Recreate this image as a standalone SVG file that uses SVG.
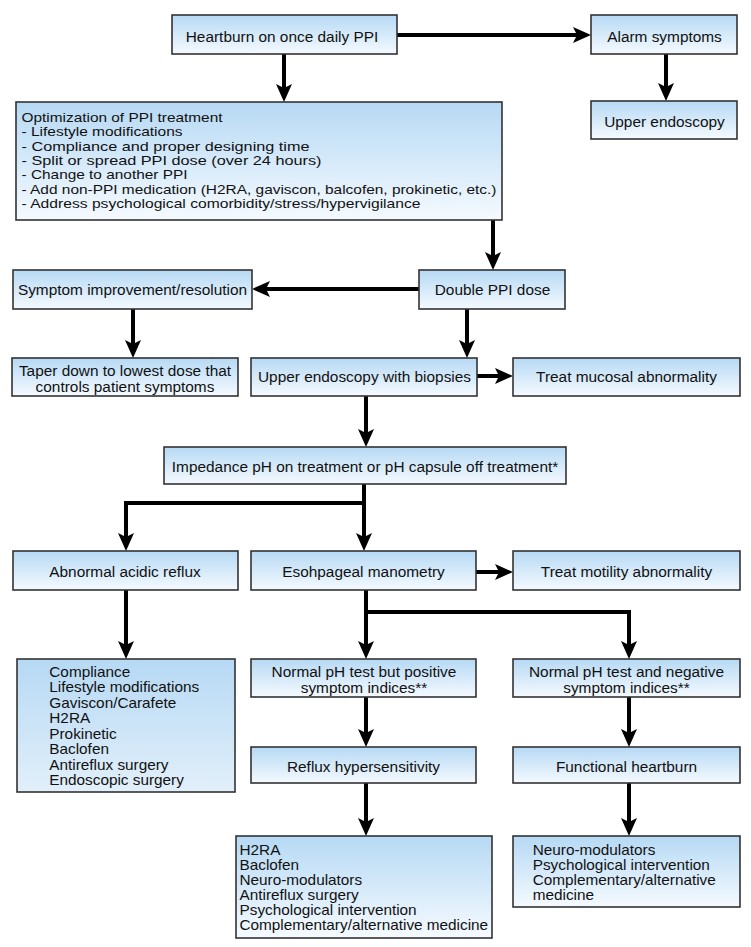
<svg xmlns="http://www.w3.org/2000/svg" width="751" height="947" viewBox="0 0 751 947">
<defs>
<linearGradient id="g" x1="0" y1="0" x2="0" y2="1">
<stop offset="0" stop-color="#b6d9f4"/>
<stop offset="1" stop-color="#f5faff"/>
</linearGradient>
<linearGradient id="g2" x1="0" y1="0" x2="0" y2="1">
<stop offset="0" stop-color="#b6d9f4"/>
<stop offset="1" stop-color="#e2effa"/>
</linearGradient>
<marker id="ah" markerUnits="userSpaceOnUse" markerWidth="20" markerHeight="18" refX="6" refY="8" orient="auto">
<path d="M0,0 L18,8 L0,16 L4,8 Z" fill="#000"/>
</marker>
<style>
rect.b{fill:url(#g);stroke:#333;stroke-width:1.6}
rect.b2{fill:url(#g2);stroke:#333;stroke-width:1.6}
text{font-family:"Liberation Sans",Arial,sans-serif;font-size:15.4px;fill:#111}
text.c{text-anchor:middle}
text.o{font-size:13.6px}
.l text{font-size:14.4px}
.con path{fill:none;stroke:#000;stroke-width:4;stroke-linejoin:miter}
.con path.a{marker-end:url(#ah)}
</style>
</defs>
<rect width="751" height="947" fill="#fff"/>

<g class="con" id="connectors">
<path class="a" d="M397,35 H579"/>
<path class="a" d="M284,54 V90"/>
<path class="a" d="M666,54 V89"/>
<path class="a" d="M493,220 V258"/>
<path class="a" d="M419,289 H264"/>
<path class="a" d="M133,309 V346"/>
<path class="a" d="M467,309 V346"/>
<path class="a" d="M477,376 H501"/>
<path class="a" d="M366,396 V435"/>
<path class="a" d="M364,484 V539"/>
<path class="a" d="M364,503 H126 V539"/>
<path class="a" d="M476,572 H501"/>
<path class="a" d="M126,590 V647"/>
<path class="a" d="M366,590 V647"/>
<path class="a" d="M366,612 H629 V647"/>
<path class="a" d="M366,697 V735"/>
<path class="a" d="M629,697 V735"/>
<path class="a" d="M366,783 V824"/>
<path class="a" d="M629,783 V824"/>
</g>

<g id="n-heartburn"><rect class="b" x="172" y="15" width="225" height="39"/><text class="c" x="282" y="41.5">Heartburn on once daily PPI</text></g>
<g id="n-alarm"><rect class="b" x="591" y="15" width="146" height="39"/><text class="c" x="664.5" y="41.5">Alarm symptoms</text></g>
<g id="n-upper-endoscopy"><rect class="b" x="591" y="101" width="146" height="38"/><text class="c" x="664.5" y="127">Upper endoscopy</text></g>
<g id="n-optimization"><rect class="b" x="16" y="102" width="486" height="118"/>
<text class="o" x="21.5" y="121.5" textLength="201" lengthAdjust="spacingAndGlyphs">Optimization of PPI treatment</text>
<text class="o" x="21.5" y="136" textLength="161" lengthAdjust="spacingAndGlyphs">- Lifestyle modifications</text>
<text class="o" x="21.5" y="150.5" textLength="288" lengthAdjust="spacingAndGlyphs">- Compliance and proper designing time</text>
<text class="o" x="21.5" y="164.5" textLength="300" lengthAdjust="spacingAndGlyphs">- Split or spread PPI dose (over 24 hours)</text>
<text class="o" x="21.5" y="179" textLength="166" lengthAdjust="spacingAndGlyphs">- Change to another PPI</text>
<text class="o" x="21.5" y="193.5" textLength="475" lengthAdjust="spacingAndGlyphs">- Add non-PPI medication (H2RA, gaviscon, balcofen, prokinetic, etc.)</text>
<text class="o" x="21.5" y="207.5" textLength="399" lengthAdjust="spacingAndGlyphs">- Address psychological comorbidity/stress/hypervigilance</text>
</g>
<g id="n-double"><rect class="b" x="419" y="270" width="146" height="39"/><text class="c" x="492.5" y="294.5">Double PPI dose</text></g>
<g id="n-symptom"><rect class="b" x="13" y="270" width="239" height="39"/><text class="c" x="132.5" y="295">Symptom improvement/resolution</text></g>
<g id="n-taper"><rect class="b" x="12" y="358" width="226" height="38"/><text class="c" x="125" y="375.5">Taper down to lowest dose that</text><text class="c" x="125" y="391.5">controls patient symptoms</text></g>
<g id="n-biopsies"><rect class="b" x="251" y="358" width="226" height="38"/><text class="c" x="364.5" y="382">Upper endoscopy with biopsies</text></g>
<g id="n-mucosal"><rect class="b" x="513" y="358" width="227" height="38"/><text class="c" x="626.5" y="382">Treat mucosal abnormality</text></g>
<g id="n-impedance"><rect class="b" x="164" y="447" width="402" height="37"/><text class="c" x="365" y="472">Impedance pH on treatment or pH capsule off treatment*</text></g>
<g id="n-abnormal"><rect class="b" x="13" y="551" width="225" height="39"/><text class="c" x="125" y="577">Abnormal acidic reflux</text></g>
<g id="n-manometry"><rect class="b" x="251" y="551" width="225" height="39"/><text class="c" x="363.5" y="577">Esohpageal manometry</text></g>
<g id="n-motility"><rect class="b" x="513" y="551" width="227" height="39"/><text class="c" x="626.5" y="577">Treat motility abnormality</text></g>
<g id="n-compliance"><rect class="b2" x="17" y="659" width="218" height="133"/>
<g class="l" transform="translate(49.3,0) scale(1.065,1)">
<text x="0" y="677">Compliance</text>
<text x="0" y="692.5">Lifestyle modifications</text>
<text x="0" y="708">Gaviscon/Carafete</text>
<text x="0" y="723.5">H2RA</text>
<text x="0" y="739">Prokinetic</text>
<text x="0" y="754.5">Baclofen</text>
<text x="0" y="770">Antireflux surgery</text>
<text x="0" y="785.5">Endoscopic surgery</text>
</g>
</g>
<g id="n-normal-positive"><rect class="b" x="251" y="659" width="225" height="38"/><text class="c" x="364" y="677">Normal pH test but positive</text><text class="c" x="364" y="693">symptom indices**</text></g>
<g id="n-normal-negative"><rect class="b" x="513" y="659" width="227" height="38"/><text class="c" x="626.5" y="677">Normal pH test and negative</text><text class="c" x="626.5" y="693">symptom indices**</text></g>
<g id="n-reflux-hyp"><rect class="b" x="251" y="747" width="225" height="36"/><text class="c" x="363.5" y="772">Reflux hypersensitivity</text></g>
<g id="n-functional"><rect class="b" x="513" y="747" width="227" height="36"/><text class="c" x="626.5" y="772">Functional heartburn</text></g>
<g id="n-rh-treatment"><rect class="b" x="236" y="836" width="256" height="102"/>
<g class="l" transform="translate(239.5,0) scale(1.065,1)">
<text x="0" y="855">H2RA</text>
<text x="0" y="870">Baclofen</text>
<text x="0" y="885">Neuro-modulators</text>
<text x="0" y="900.5">Antireflux surgery</text>
<text x="0" y="915.5">Psychological intervention</text>
<text x="0" y="930.5">Complementary/alternative medicine</text>
</g>
</g>
<g id="n-fh-treatment"><rect class="b" x="513" y="836" width="227" height="71"/>
<g class="l" transform="translate(532.7,0) scale(1.065,1)">
<text x="0" y="855">Neuro-modulators</text>
<text x="0" y="870">Psychological intervention</text>
<text x="0" y="885">Complementary/alternative</text>
<text x="0" y="900.5">medicine</text>
</g>
</g>
</svg>
